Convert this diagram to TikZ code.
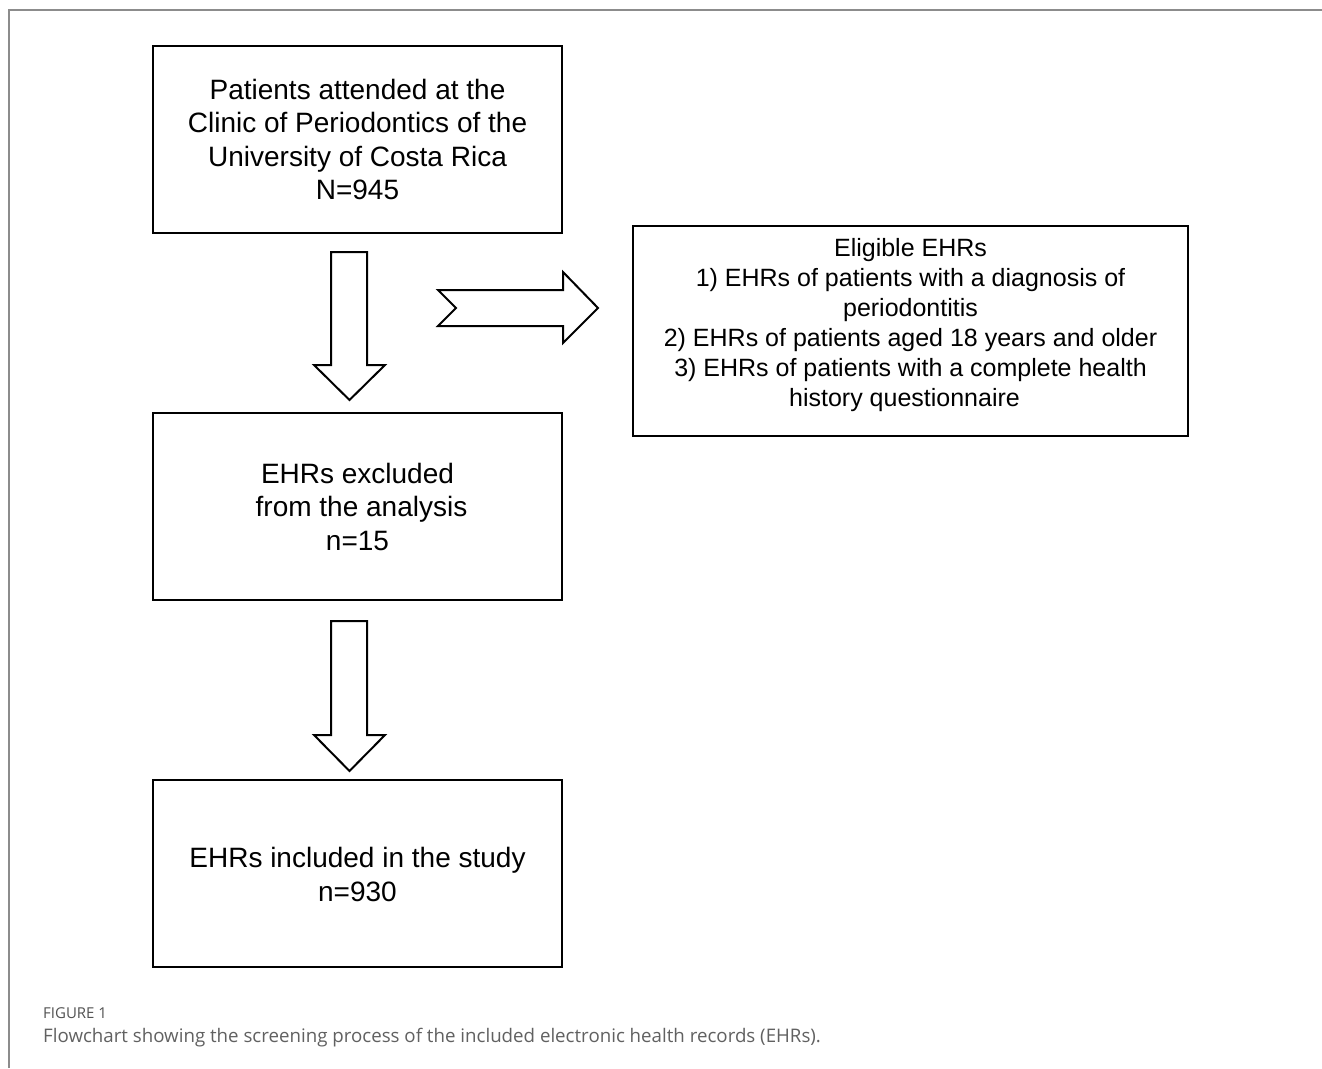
\documentclass[tikz,border=0pt]{standalone}
\usepackage{fontspec}
\setmainfont{Liberation Sans}
\newfontfamily\capfont{Open Sans}
\begin{document}
\begin{tikzpicture}[x=1pt,y=-1pt,
  box/.style={draw=black,line width=2.4pt,minimum width=409pt,minimum height=187pt,inner sep=0pt},
  boxtext/.style={align=center,font=\fontsize{28}{33.5}\selectfont,inner sep=0pt},
  smalltext/.style={align=center,font=\fontsize{25}{30}\selectfont,inner sep=0pt},
  blockarrow/.style={draw=black,line width=2pt,fill=white,line join=miter},
  frame/.style={draw=black!45,line width=1.4pt},
  capgrey/.style={text=black!62,inner sep=0pt,anchor=mid west}]
\useasboundingbox (0,0) rectangle (1322,1068);
\fill[white] (0,0) rectangle (1322,1068);
% frame
\draw[frame] (9,1068) -- (9,10) -- (1322,10);
% boxes
\node[box] (b1) at (357.5,139.5) {};
\node[box] (b2) at (357.5,506.5) {};
\node[box] (b3) at (357.5,873.5) {};
\node[draw=black,line width=2.4pt,minimum width=555pt,minimum height=210pt,inner sep=0pt] (elig) at (910.5,331) {};
% texts
\node[boxtext] (t1) at (b1.center) {Patients attended at the\\Clinic of Periodontics of the\\University of Costa Rica\\N=945};
\node[boxtext] (t2) at (b2.center) {EHRs excluded\\\hspace*{8pt}from the analysis\\n=15};
\node[boxtext] (t3) at ([yshift=-1pt]b3.center) {EHRs included in the study\\n=930};
\node[smalltext] (te) at ([yshift=6pt]elig.center) {Eligible EHRs\\1) EHRs of patients with a diagnosis of\\periodontitis\\2) EHRs of patients aged 18 years and older\hspace*{14pt}\\3) EHRs of patients with a complete health\\history questionnaire\hspace*{12pt}};
% block arrows
\draw[blockarrow] (331,252) -- (367,252) -- (367,365) -- (385,365) -- (349.5,400) -- (314,365) -- (331,365) -- cycle;
\draw[blockarrow] (331,621) -- (367,621) -- (367,735) -- (385,735) -- (349.5,771) -- (314,735) -- (331,735) -- cycle;
\draw[blockarrow] (438,290) -- (563,290) -- (563,272) -- (598,308) -- (563,343) -- (563,326) -- (438,326) -- (456,308) -- cycle;
% caption
\node[capgrey,text=black!68,font=\capfont\fontsize{15}{17}\selectfont] (fig) at (43,1016) {FIGURE 1};
\node[capgrey,font=\capfont\fontsize{18.7}{21}\selectfont] (cap) at (43,1040) {Flowchart showing the screening process of the included electronic health records (EHRs).};
\end{tikzpicture}
\end{document}
